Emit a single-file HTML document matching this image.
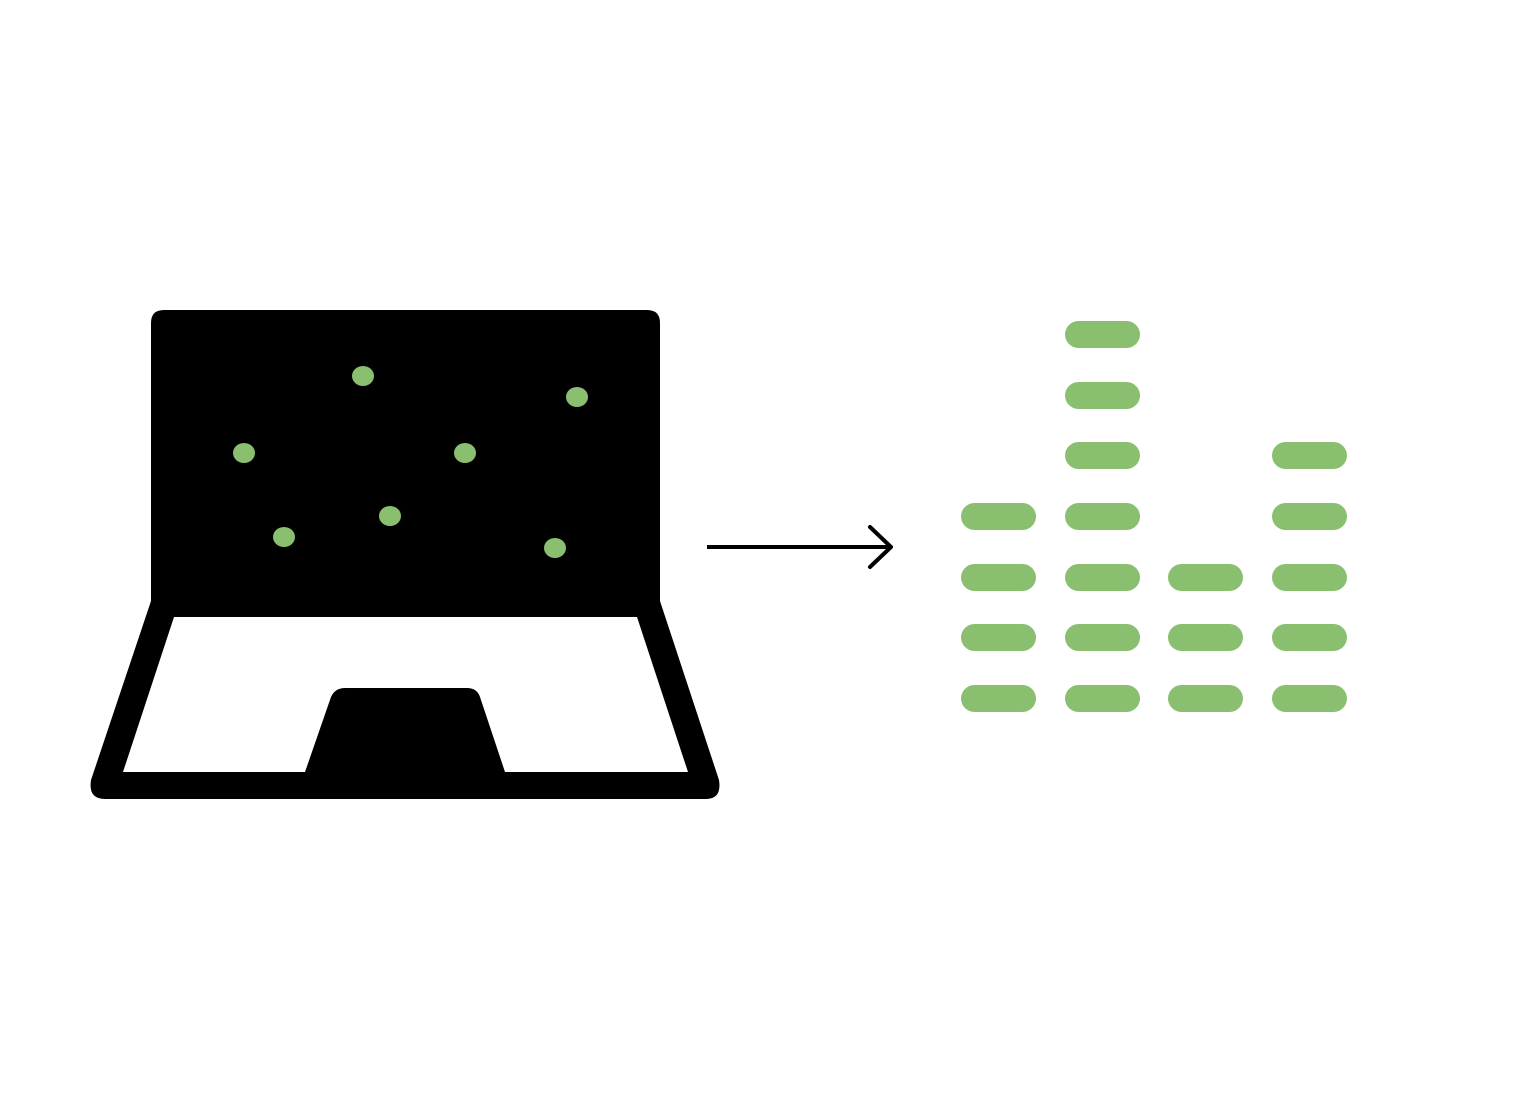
<!DOCTYPE html>
<html><head><style>html,body{margin:0;padding:0;background:#fff}</style></head><body>
<svg width="1538" height="1098" viewBox="0 0 1538 1098" xmlns="http://www.w3.org/2000/svg">
<rect width="1538" height="1098" fill="#fff"/>
<path d="M164,310 H647 Q660,310 660,323 V601 L719,780 Q722,799 706,799 H105 Q88,799 91,780 L151,601 V323 Q151,310 164,310 Z" fill="#000"/>
<path d="M174,617 H637 L688,772 H505 L480,697 Q477,688 467,688 H345 Q335,688 331,697 L305,772 H123 Z" fill="#fff"/>
<g fill="#8abf6f">
<ellipse cx="363" cy="376" rx="11" ry="10"/>
<ellipse cx="577" cy="397" rx="11" ry="10"/>
<ellipse cx="244" cy="453" rx="11" ry="10"/>
<ellipse cx="465" cy="453" rx="11" ry="10"/>
<ellipse cx="390" cy="516" rx="11" ry="10"/>
<ellipse cx="284" cy="537" rx="11" ry="10"/>
<ellipse cx="555" cy="548" rx="11" ry="10"/>
</g>
<line x1="707" y1="547" x2="889" y2="547" stroke="#000" stroke-width="4"/>
<polyline points="870,527 891,547 870,567" fill="none" stroke="#000" stroke-width="4" stroke-linecap="round" stroke-linejoin="round"/>
<g fill="#8abf6f">
<rect x="961" y="503" width="75" height="27" rx="13.5"/>
<rect x="961" y="564" width="75" height="27" rx="13.5"/>
<rect x="961" y="624" width="75" height="27" rx="13.5"/>
<rect x="961" y="685" width="75" height="27" rx="13.5"/>
<rect x="1065" y="321" width="75" height="27" rx="13.5"/>
<rect x="1065" y="382" width="75" height="27" rx="13.5"/>
<rect x="1065" y="442" width="75" height="27" rx="13.5"/>
<rect x="1065" y="503" width="75" height="27" rx="13.5"/>
<rect x="1065" y="564" width="75" height="27" rx="13.5"/>
<rect x="1065" y="624" width="75" height="27" rx="13.5"/>
<rect x="1065" y="685" width="75" height="27" rx="13.5"/>
<rect x="1168" y="564" width="75" height="27" rx="13.5"/>
<rect x="1168" y="624" width="75" height="27" rx="13.5"/>
<rect x="1168" y="685" width="75" height="27" rx="13.5"/>
<rect x="1272" y="442" width="75" height="27" rx="13.5"/>
<rect x="1272" y="503" width="75" height="27" rx="13.5"/>
<rect x="1272" y="564" width="75" height="27" rx="13.5"/>
<rect x="1272" y="624" width="75" height="27" rx="13.5"/>
<rect x="1272" y="685" width="75" height="27" rx="13.5"/>
</g>
</svg>
</body></html>
